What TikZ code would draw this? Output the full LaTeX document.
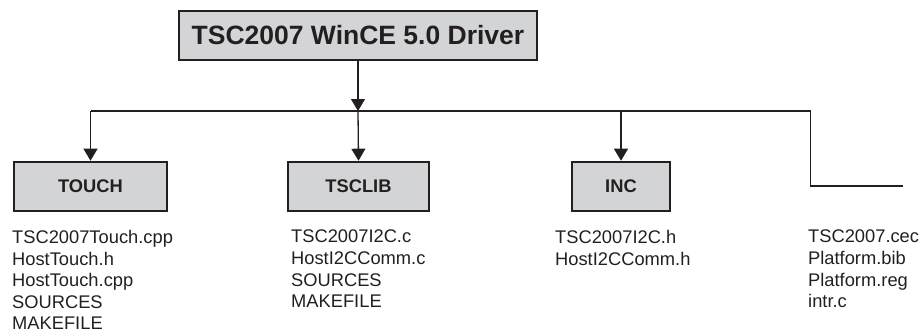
\documentclass[tikz,border=0pt]{standalone}
\usepackage{fontspec}
\setmainfont{Liberation Sans}
\usetikzlibrary{arrows.meta}
\definecolor{boxgray}{RGB}{211,212,214}
\definecolor{ink}{RGB}{35,31,32}
\begin{document}
\begin{tikzpicture}[x=1pt,y=-1pt,
  dirbox/.style={draw=ink,fill=boxgray,line width=2.6pt,minimum height=49pt,inner sep=0pt,
    font=\bfseries\fontsize{18.3}{20}\selectfont,text=ink},
  filelist/.style={anchor=north west,inner sep=0pt,align=left,text=ink,
    font=\fontsize{18.3}{21.6}\selectfont},
  conn/.style={draw=ink,line width=1.3pt},
  arr/.style={conn,-{Triangle[length=12pt,width=14pt]}}]
\useasboundingbox (0,0) rectangle (922,335);
\node[dirbox,minimum width=358pt,minimum height=49pt,font=\bfseries\fontsize{26.5}{28}\selectfont] (root) at (358,35.5) {TSC2007 WinCE 5.0 Driver};
\node[dirbox,minimum width=153pt] (touch) at (90.5,186.5) {TOUCH};
\node[dirbox,minimum width=141pt] (tsclib) at (358.5,186.5) {TSCLIB};
\node[dirbox,minimum width=98pt] (inc) at (621,186.5) {INC};
\coordinate (bl) at (90.5,111);
\coordinate (bm) at (358,111);
\coordinate (bi) at (621,111);
\coordinate (br) at (810.5,111);
\coordinate (bc) at (810.5,186);
\coordinate (be) at (903,186);
\draw[conn] (bl) -- (br) -- (bc) -- (be);
\draw[arr] (root.south) -- (bm);
\draw[arr] (bl) -- (touch.north);
\draw[arr] (bm) -- (tsclib.north);
\draw[arr] (bi) -- (inc.north);
\node[filelist] (l1) at (12,230) {TSC2007Touch.cpp\\HostTouch.h\\HostTouch.cpp\\SOURCES\\MAKEFILE};
\node[filelist] (l2) at (291,230) {TSC2007I2C.c\\HostI2CComm.c\\SOURCES\\MAKEFILE};
\node[filelist] (l3) at (555,230) {TSC2007I2C.h\\HostI2CComm.h};
\node[filelist] (l4) at (808,230) {TSC2007.cec\\Platform.bib\\Platform.reg\\intr.c};
\end{tikzpicture}
\end{document}
